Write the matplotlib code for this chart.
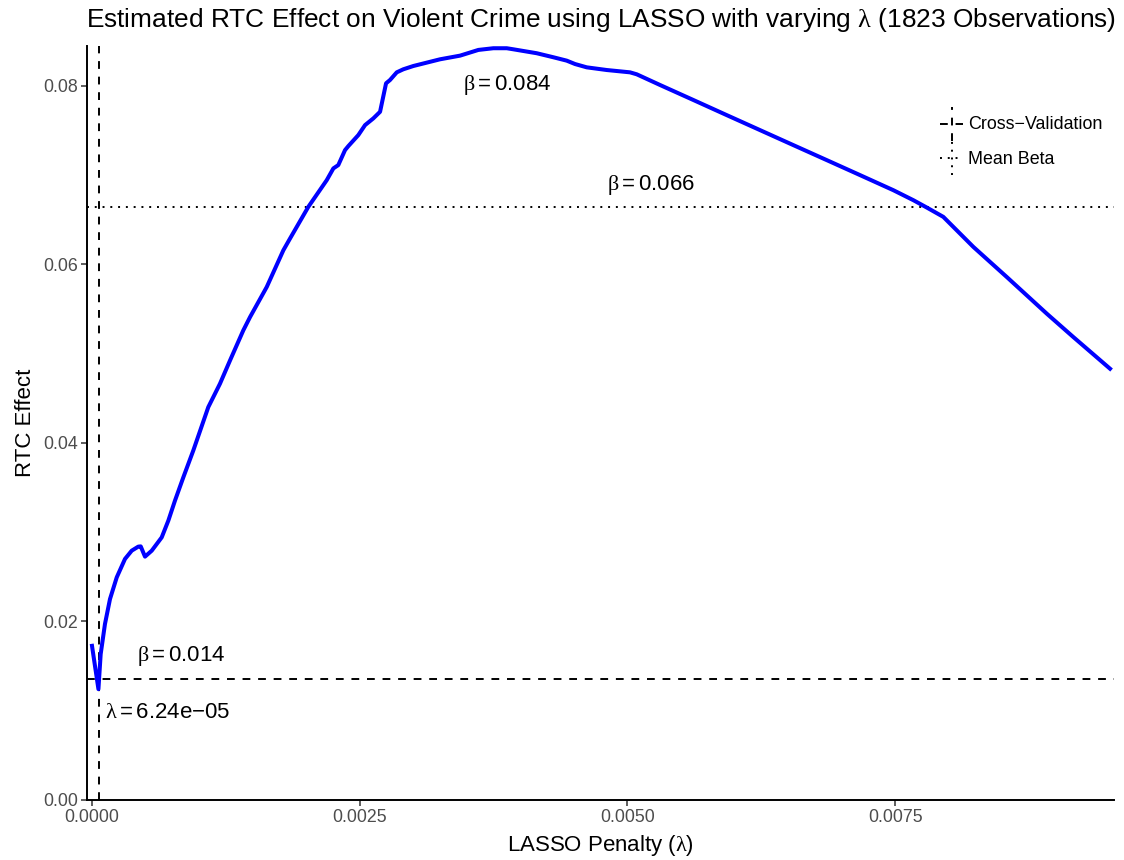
import matplotlib
matplotlib.use("Agg")
import matplotlib.pyplot as plt
from matplotlib.lines import Line2D
from matplotlib.legend_handler import HandlerBase

# LASSO path: penalty vs estimated RTC coefficient
lambdas = [0.0, 0.000060, 0.000081, 0.000121, 0.000168, 0.000231, 0.000308,
           0.000371, 0.000432, 0.000455, 0.000495, 0.000558, 0.000651, 0.000713,
           0.000775, 0.000853, 0.000946, 0.001086, 0.001195, 0.001289, 0.001413,
           0.001476, 0.001632, 0.001787, 0.001849, 0.002020, 0.002192, 0.002254,
           0.002300, 0.002363, 0.002394, 0.002487, 0.002550, 0.002627, 0.002690,
           0.002746, 0.002783, 0.002846, 0.002907, 0.003001, 0.003250, 0.003437,
           0.003608, 0.003748, 0.003873, 0.003935, 0.004153, 0.004308, 0.004433,
           0.004511, 0.004620, 0.004807, 0.005024, 0.005087, 0.005305, 0.005616,
           0.005927, 0.006238, 0.006549, 0.006861, 0.007172, 0.007483, 0.007670,
           0.007795, 0.007950, 0.008231, 0.008542, 0.008916, 0.009164, 0.009507]
betas = [0.01727, 0.01242, 0.01634, 0.01971, 0.02251, 0.02494, 0.02700,
         0.02793, 0.02838, 0.02841, 0.02726, 0.02793, 0.02942, 0.03130,
         0.03354, 0.03615, 0.03915, 0.04401, 0.04663, 0.04924, 0.05261,
         0.05410, 0.05747, 0.06158, 0.06289, 0.06644, 0.06943, 0.07075,
         0.07112, 0.07280, 0.07325, 0.07448, 0.07560, 0.07635, 0.07709,
         0.08028, 0.08065, 0.08151, 0.08185, 0.08222, 0.08297, 0.08338,
         0.08402, 0.08421, 0.08421, 0.08409, 0.08365, 0.08320, 0.08282,
         0.08244, 0.08207, 0.08177, 0.08151, 0.08129, 0.08009, 0.07841,
         0.07672, 0.07504, 0.07336, 0.07168, 0.07000, 0.06831, 0.06719,
         0.06637, 0.06532, 0.06195, 0.05859, 0.05448, 0.05186, 0.04831]

cv_lambda = 6.24e-05
cv_beta = 0.0136
mean_beta = 0.0664
peak_lambda = 0.003873
peak_beta = 0.0842

x_ticks = [0.0, 0.0025, 0.0050, 0.0075]
x_ticklabels = ["0.0000", "0.0025", "0.0050", "0.0075"]
y_ticks = [0.00, 0.02, 0.04, 0.06, 0.08]
y_ticklabels = ["0.00", "0.02", "0.04", "0.06", "0.08"]

plt.rcParams["font.family"] = ["Liberation Sans", "DejaVu Sans"]
plt.rcParams["mathtext.fontset"] = "custom"
plt.rcParams["mathtext.rm"] = "Liberation Sans"
plt.rcParams["mathtext.it"] = "Liberation Serif"
plt.rcParams["mathtext.bf"] = "Liberation Sans:bold"

DASH = (0, (4, 4))
DOT = (0, (1, 3))


class HandlerCross(HandlerBase):
    # key with both a horizontal and a vertical line (hline + vline)
    def __init__(self, linestyle, **kw):
        super().__init__(**kw)
        self.linestyle = linestyle

    def create_artists(self, legend, orig_handle, xdescent, ydescent,
                       width, height, fontsize, trans):
        lw = orig_handle.get_linewidth()
        cx = width / 2 - xdescent
        cy = height / 2 - ydescent
        h = Line2D([-xdescent, width - xdescent], [cy, cy], color="black",
                   lw=lw, linestyle=self.linestyle, transform=trans)
        v = Line2D([cx, cx], [-ydescent, height - ydescent], color="black",
                   lw=lw, linestyle=self.linestyle, transform=trans)
        return [h, v]


fig = plt.figure(figsize=(11.24, 8.6), dpi=100)
ax = fig.add_axes([87 / 1124, 1 - 800 / 860, (1114 - 87) / 1124, (800 - 46) / 860])

ax.plot(lambdas, betas, color="#0000FF", lw=2.9, solid_joinstyle="round",
        zorder=3)

ax.axhline(cv_beta, color="black", lw=1.4, linestyle=DASH)
ax.axvline(cv_lambda, color="black", lw=1.4, linestyle=DASH)
ax.axhline(mean_beta, color="black", lw=1.4, linestyle=DOT)

ann = dict(fontsize=16, ha="center", va="center", color="black")
ax.text(peak_lambda, 0.0801, r"$\beta = 0.084$", **ann)
ax.text(0.005224, 0.0689, r"$\beta = 0.066$", **ann)
ax.text(0.000831, 0.01615, r"$\beta = 0.014$", **ann)
ax.text(0.000708, 0.00979, r"$\lambda = 6.24\mathrm{e}{-}05$", **ann)

ax.set_xlim(-0.0000467, 0.009544)
ax.set_ylim(0, 0.08446)
ax.set_xticks(x_ticks)
ax.set_xticklabels(x_ticklabels)
ax.set_yticks(y_ticks)
ax.set_yticklabels(y_ticklabels)
ax.tick_params(axis="both", labelsize=12.8, labelcolor="#4D4D4D",
               color="#333333", length=4, width=1.1, pad=2.5)

for side in ["top", "right"]:
    ax.spines[side].set_visible(False)
for side in ["left", "bottom"]:
    ax.spines[side].set_linewidth(1.4)

ax.set_xlabel(r"LASSO Penalty ($\lambda$)", fontsize=16, labelpad=5)
ax.set_ylabel("RTC Effect", fontsize=16, labelpad=5)
ax.set_title(r"Estimated RTC Effect on Violent Crime using LASSO with varying "
             r"$\lambda$ (1823 Observations)", fontsize=18.9, pad=13.5)

cv_handle = Line2D([], [], color="black", lw=1.4)
mb_handle = Line2D([], [], color="black", lw=1.4)
fig.legend([cv_handle, mb_handle], ["Cross\u2212Validation", "Mean Beta"],
           handler_map={cv_handle: HandlerCross(DASH),
                        mb_handle: HandlerCross(DOT)},
           loc="upper left", bbox_to_anchor=(940 / 1124, 1 - 107 / 860),
           bbox_transform=fig.transFigure, frameon=False, fontsize=12.9,
           borderpad=0, borderaxespad=0, handlelength=1.3, handleheight=2.55,
           handletextpad=0.25, labelspacing=0)

fig.savefig("out.png", dpi=100, facecolor="white")
